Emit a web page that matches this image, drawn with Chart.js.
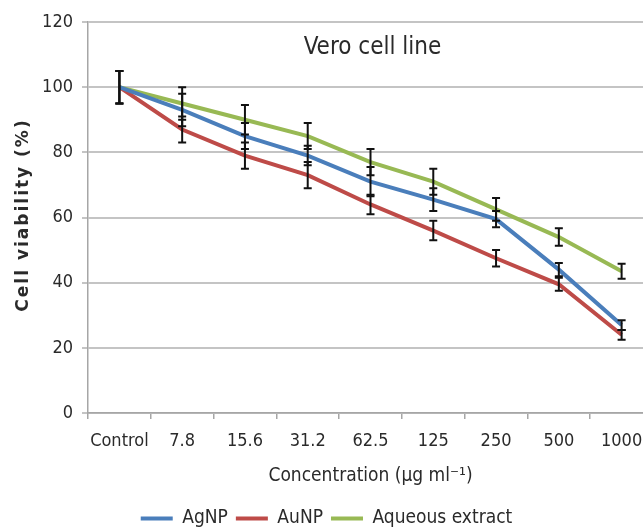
<!DOCTYPE html>
<html>
<head>
<meta charset="utf-8">
<script src="https://cdn.jsdelivr.net/npm/chart.js@4.4.1/dist/chart.umd.min.js"></script>
<style>
  html, body { margin: 0; padding: 0; background: #fff; overflow: hidden; }
  #wrap { width: 643px; height: 532px; overflow: hidden; }
  canvas { display: block; }
</style>
</head>
<body>
<div id="wrap"><canvas id="chart" width="715" height="532"></canvas></div>
<script>
// concentrations on the x axis
const concentrations = ['Control', '7.8', '15.6', '31.2', '62.5', '125', '250', '500', '1000'];

// cell viability (%) per series
const agnp = [100, 93, 85, 79, 71, 65.5, 59.5, 44, 27];
const aunp = [100, 87, 79, 73, 64, 56, 47.5, 39.5, 24];
const aqueous = [100, 95, 90, 85, 77, 71, 62.5, 54, 43.5];

// +/- error for each point
const agnpErr = [5, 5, 4, 3, 4.5, 3.5, 2.5, 2, 1.5];
const aunpErr = [5, 4, 4, 4, 3, 3, 2.5, 2, 1.5];
const aqueousErr = [5, 5, 4.5, 4, 4, 4, 3.5, 2.7, 2.3];

const yTicks = [0, 20, 40, 60, 80, 100, 120];

const narrow = "'Liberation Sans Narrow', 'DejaVu Sans Condensed', 'Roboto Condensed', sans-serif";
const textColor = '#2a2a2a';

// error bars drawn on top of the lines
const errorBars = {
    id: 'errorBars',
    afterDatasetsDraw(chart) {
        const ctx = chart.ctx;
        const yScale = chart.scales.y;
        ctx.save();
        ctx.strokeStyle = '#111';
        ctx.lineWidth = 2;
        chart.data.datasets.forEach((ds, i) => {
            const meta = chart.getDatasetMeta(i);
            meta.data.forEach((pt, j) => {
                const err = ds.errors[j];
                const top = yScale.getPixelForValue(ds.data[j] + err);
                const bottom = yScale.getPixelForValue(ds.data[j] - err);
                ctx.beginPath();
                ctx.moveTo(pt.x, top);
                ctx.lineTo(pt.x, bottom);
                ctx.moveTo(pt.x - 4, top);
                ctx.lineTo(pt.x + 4, top);
                ctx.moveTo(pt.x - 4, bottom);
                ctx.lineTo(pt.x + 4, bottom);
                ctx.stroke();
            });
        });
        ctx.restore();
    }
};

// "Vero cell line" inside the plot + the spaced bold y title
const extraText = {
    id: 'extraText',
    afterLayout(chart) {
        // nudge the legend a little lower
        chart.legend.top += 6;
        chart.legend.bottom += 6;
    },
    afterDraw(chart) {
        const { ctx, chartArea } = chart;
        ctx.save();
        ctx.font = '24px ' + narrow;
        ctx.fillStyle = textColor;
        ctx.textAlign = 'center';
        ctx.textBaseline = 'middle';
        ctx.fillText('Vero cell line', (chartArea.left + chartArea.right) / 2 + 2, chartArea.top + 26);

        ctx.translate(24, 215);
        ctx.rotate(-Math.PI / 2);
        ctx.font = "bold 17px 'DejaVu Sans', sans-serif";
        ctx.letterSpacing = '2px';
        ctx.fillText('Cell viability (%)', 0, 0);
        ctx.restore();
    }
};

new Chart(document.getElementById('chart'), {
    type: 'line',
    data: {
        labels: concentrations,
        datasets: [
            { label: 'AgNP', data: agnp, errors: agnpErr, borderColor: '#4a7ebb', backgroundColor: '#4a7ebb' },
            { label: 'AuNP', data: aunp, errors: aunpErr, borderColor: '#be4b48', backgroundColor: '#be4b48' },
            { label: 'Aqueous extract', data: aqueous, errors: aqueousErr, borderColor: '#98b954', backgroundColor: '#98b954' }
        ]
    },
    options: {
        responsive: false,
        animation: false,
        layout: { padding: { top: 22, right: 62, left: 0, bottom: 0 } },
        elements: {
            line: { borderWidth: 4, tension: 0 },
            point: { radius: 0, hoverRadius: 0 }
        },
        plugins: {
            tooltip: { enabled: false },
            legend: {
                position: 'bottom',
                labels: {
                    usePointStyle: true,
                    pointStyle: 'line',
                    pointStyleWidth: 32,
                    padding: 8,
                    color: textColor,
                    font: { family: narrow, size: 19 },
                    generateLabels(chart) {
                        return Chart.defaults.plugins.legend.labels.generateLabels(chart)
                            .map(l => Object.assign(l, { lineWidth: 4, pointStyle: 'line' }));
                    }
                }
            }
        },
        scales: {
            x: {
                offset: true,
                afterFit(scale) { scale.height = 82; },
                grid: { offset: true, drawOnChartArea: false, drawTicks: true, tickLength: 6, color: '#a6a6a6', lineWidth: 1.5 },
                border: { color: '#a6a6a6', width: 1.5 },
                ticks: { color: textColor, font: { family: narrow, size: 18 }, padding: 12, maxRotation: 0, autoSkip: false },
                title: {
                    display: true,
                    text: 'Concentration (\u00b5g ml\u207b\u00b9)',
                    color: textColor,
                    font: { family: narrow, size: 19 },
                    padding: { top: 0, bottom: 8 }
                }
            },
            y: {
                min: 0,
                max: 120,
                afterFit(scale) { scale.width = 88; },
                afterBuildTicks(scale) { scale.ticks = yTicks.map(v => ({ value: v })); },
                grid: { color: '#c4c4c4', lineWidth: 2, tickLength: 6, drawTicks: true },
                border: { color: '#a6a6a6', width: 1.5 },
                ticks: { color: textColor, font: { family: narrow, size: 18 }, padding: 9 },
                title: { display: false }
            }
        }
    },
    plugins: [errorBars, extraText]
});
</script>
</body>
</html>
